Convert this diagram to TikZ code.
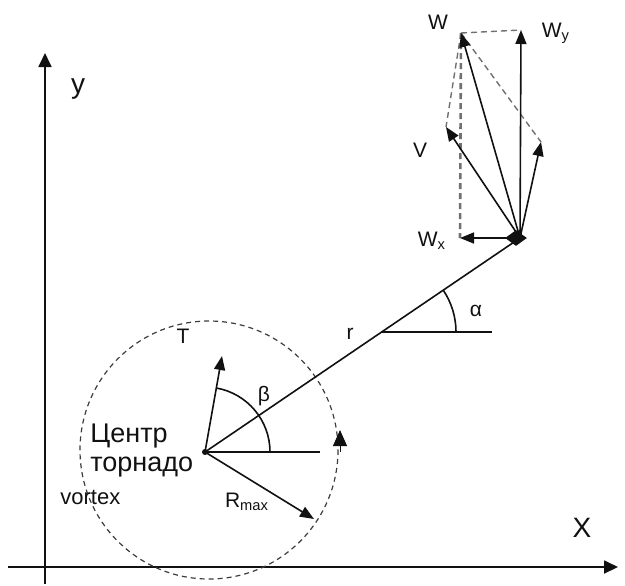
\documentclass[tikz,border=0pt]{standalone}
\usepackage{fontspec}
\setmainfont{Liberation Sans}
\usepackage{tikz}
\usetikzlibrary{shapes,arrows.meta,calc}
\usepackage{xcolor}
\definecolor{tvInk}{HTML}{111111}
\definecolor{tvGrey}{HTML}{707070}
\definecolor{tvDash}{HTML}{3C3C3C}
\tikzset{
  ax/.style={-{Triangle[length=7pt,width=6.5pt]}, line width=0.9pt, draw=tvInk},
  vec/.style={-{Triangle[length=7pt,width=5.5pt]}, line width=0.8pt, draw=tvInk},
  aux/.style={line width=0.8pt, draw=tvInk},
  dsh/.style={line width=0.7pt, draw=tvGrey, dash pattern=on 3pt off 2pt},
  rim/.style={line width=0.6pt, draw=tvDash, dash pattern=on 2.5pt off 2pt},
  lbl/.style={font=\fontsize{10.5}{12}\selectfont, inner sep=0pt, text=tvInk},
  big/.style={font=\fontsize{13.5}{15}\selectfont, inner sep=0pt, text=tvInk},
  axl/.style={font=\fontsize{14}{16}\selectfont, inner sep=0pt, text=tvInk},
}

\begin{document}
\begin{tikzpicture}[x=0.5pt,y=-0.5pt]
  \useasboundingbox (0,0) rectangle (625,585);
  % axes
  \coordinate (y0) at (45,584);
  \coordinate (y1) at (45,53);
  \coordinate (x0) at (8,567);
  \coordinate (x1) at (618,567);
  \draw[ax] (y0) -- (y1);
  \draw[ax] (x0) -- (x1);
  \node[axl] (ylab) at (78,89) {y};
  \node[axl] (xlab) at (582,528) {X};

  % vortex and radius
  \coordinate (c) at (205,452);
  \coordinate (rc) at (209,450);
  \draw[rim] (rc) circle[radius=129];
  \coordinate (h) at (320,452);
  \coordinate (tT) at (222,356);
  \coordinate (tR) at (314,519);
  \coordinate (s0) at (340,452);
  \coordinate (s1) at (340,430);
  \draw[aux] (c) -- (h);
  \draw[vec] (c) -- (tT);
  \draw[vec] (c) -- (tR);
  \draw[-{Triangle[length=8pt,width=7pt]}, line width=0.5pt, draw=tvInk] (s0) -- (s1);
  \draw[aux] ($(c)+(65,0)$) arc[start angle=0, end angle=-80, radius=65];
  \fill[tvInk] (c) circle[radius=3];
  \node[lbl] (T) at (183,336) {T};
  \node[lbl] (beta) at (264,396) {β};
  \node[lbl] (Rmax) at (247,502) {R\textsubscript{max}};
  \node[big, anchor=west] (cen1) at (90,436) {Центр};
  \node[big, anchor=west] (cen2) at (90,467) {торнадо};
  \node[lbl, font=\fontsize{11}{12}\selectfont, anchor=west] (vort) at (60,497) {vortex};

  % r and alpha
  \coordinate (B) at (520,238);
  \coordinate (a0) at (381,332);
  \coordinate (a1) at (492,332);
  \draw[aux] (c) -- (B);
  \draw[aux] (a0) -- (a1);
  \draw[aux] ($(a0)+(75,0)$) arc[start angle=0, end angle=-34, radius=75];
  \node[lbl] (r) at (350,334) {r};
  \node[lbl] (alpha) at (476,311) {α};

  % velocity vectors
  \coordinate (tW) at (461,33);
  \coordinate (tWy) at (521,30);
  \coordinate (tWx) at (460,238);
  \coordinate (tV) at (446,127);
  \coordinate (tU) at (541,142);
  \draw[dsh] (tW) -- (tWy);
  \draw[dsh, line width=1.3pt] (tW) -- (tWx);
  \draw[dsh] (tW) -- (tV);
  \draw[dsh] (tW) -- (tU);
  \foreach \t in {tW,tWy,tWx,tV,tU} \draw[vec] (B) -- (\t);
  \node[diamond, fill=tvInk, inner sep=0pt, minimum width=11pt, minimum height=8pt] (Bdot) at ($(B)+(-4,0)$) {};
  \node[lbl] (W) at (438,22) {W};
  \node[lbl] (Wy) at (556,33) {W\textsubscript{y}};
  \node[lbl] (V) at (420,150) {V};
  \node[lbl] (Wx) at (432,241) {W\textsubscript{x}};
\end{tikzpicture}
\end{document}
